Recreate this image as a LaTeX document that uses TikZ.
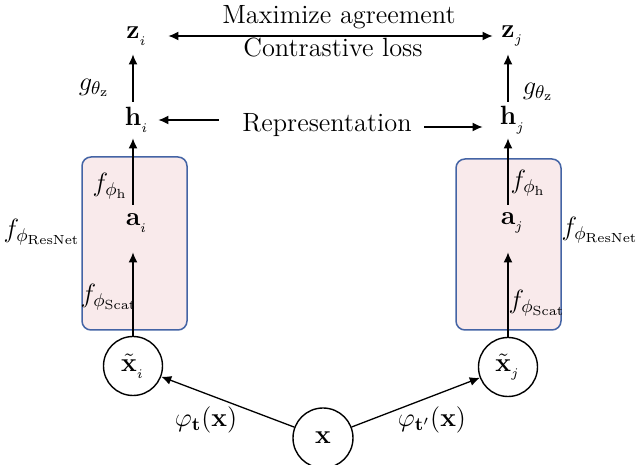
\RequirePackage{fix-cm}
\documentclass[tikz,border=0pt]{standalone}
\usepackage{amsmath,amssymb,mathtools}
\usetikzlibrary{arrows.meta, positioning, backgrounds}

\definecolor{encfill}{RGB}{249,234,235}
\definecolor{encdraw}{RGB}{68,100,165}

\begin{document}
\begin{tikzpicture}[
  x=0.5pt, y=-0.5pt,
  >=Latex,
  font=\fontsize{13.2}{16}\selectfont,
  % --- nodes ---
  var/.style={inner sep=0pt, minimum width=10pt, minimum height=18pt},
  circ/.style={circle, draw, line width=0.7pt, inner sep=0pt, minimum size=29.5pt},
  enc/.style={draw=encdraw, fill=encfill, line width=0.75pt, rounded corners=4.5pt},
  lbl/.style={inner sep=0pt},
  % --- arrows ---
  arr/.style={-{Latex[length=5pt, width=4.5pt]}, line width=0.65pt},
  darr/.style={{Latex[length=5pt, width=4.5pt]}-{Latex[length=5pt, width=4.5pt]}, line width=0.65pt},
]
\useasboundingbox (0,0) rectangle (639,465);

% ===================== ENCODERS =====================

\node[enc, minimum width=52.5pt, minimum height=86.5pt] (enci) at (134.5,243.5) {};
\node[enc, minimum width=52.5pt, minimum height=85.5pt] (encj) at (508.5,244.5) {};

% ===================== LEFT BRANCH =====================

\node[var] (zi) at (133,36) {$\mathbf{z}\mathrlap{{}_{{}_i}}$};
\node[var] (hi) at (133,120) {$\mathbf{h}\mathrlap{{}_{{}_i}}$};
\node[var] (ai) at (133,223) {$\mathbf{a}\mathrlap{{}_{{}_i}}$};
\node[circ] (xti) at (133,366) {$\tilde{\mathbf{x}}_{{}_i}$};

% ===================== RIGHT BRANCH =====================

\node[var] (zj) at (508,36) {$\mathbf{z}\mathrlap{{}_{{}_j}}$};
\node[var] (hj) at (508,120) {$\mathbf{h}\mathrlap{{}_{{}_j}}$};
\node[var] (aj) at (508,223) {$\mathbf{a}\mathrlap{{}_{{}_j}}$};
\node[circ] (xtj) at (508,367) {$\tilde{\mathbf{x}}_{{}_j}$};

% input
\node[circ, minimum size=30pt] (x) at (323,438) {$\mathbf{x}$};

% ===================== TEXTS AND LABELS =====================

\node[lbl] (agree) at (339,17) {Maximize agreement};
\node[lbl] (loss) at (333,47) {Contrastive loss};
\node[lbl] (rep) at (327,125) {Representation};

\node[lbl] (gi) at (94,88) {$g_{\theta_\mathrm{z}}$};
\node[lbl] (gj) at (538,92) {$g_{\theta_\mathrm{z}}$};
\node[lbl] (fhi) at (110,186) {$f_{\phi_\mathrm{h}}$};
\node[lbl] (fhj) at (528,183) {$f_{\phi_\mathrm{h}}$};
\node[lbl] (fri) at (42,232) {$f_{\phi_\mathrm{ResNet}}$};
\node[lbl] (frj) at (600,230) {$f_{\phi_\mathrm{ResNet}}$};
\node[lbl] (fsi) at (109,297) {$f_{\phi_\mathrm{Scat}}$};
\node[lbl] (fsj) at (537,303) {$f_{\phi_\mathrm{Scat}}$};
\node[lbl] (ti) at (206,420) {$\varphi_{\mathbf{t}}(\mathbf{x})$};
\node[lbl] (tj) at (432,420) {$\varphi_{\mathbf{t}'}(\mathbf{x})$};

% ===================== CONNECTIONS =====================

\draw[darr] ([xshift=12.5pt]zi.east) -- ([xshift=-2.5pt]zj.west);
\draw[arr] ([xshift=-11.5pt, yshift=2.5pt]rep.west) -- ([xshift=7.5pt]hi.east);
\draw[arr] ([xshift=6pt, yshift=-1pt]rep.east) -- ([xshift=-7.5pt, yshift=-3.5pt]hj.west);

\draw[arr] (hi) -- (zi);
\draw[arr] (ai) -- (hi);
\draw[arr, shorten >=5.5pt] (xti) -- (ai);
\draw[arr] (hj) -- (zj);
\draw[arr] (aj) -- (hj);
\draw[arr, shorten >=5.5pt] (xtj) -- (aj);

\draw[arr] (x) -- (xti);
\draw[arr] (x) -- (xtj);

\end{tikzpicture}
\end{document}
